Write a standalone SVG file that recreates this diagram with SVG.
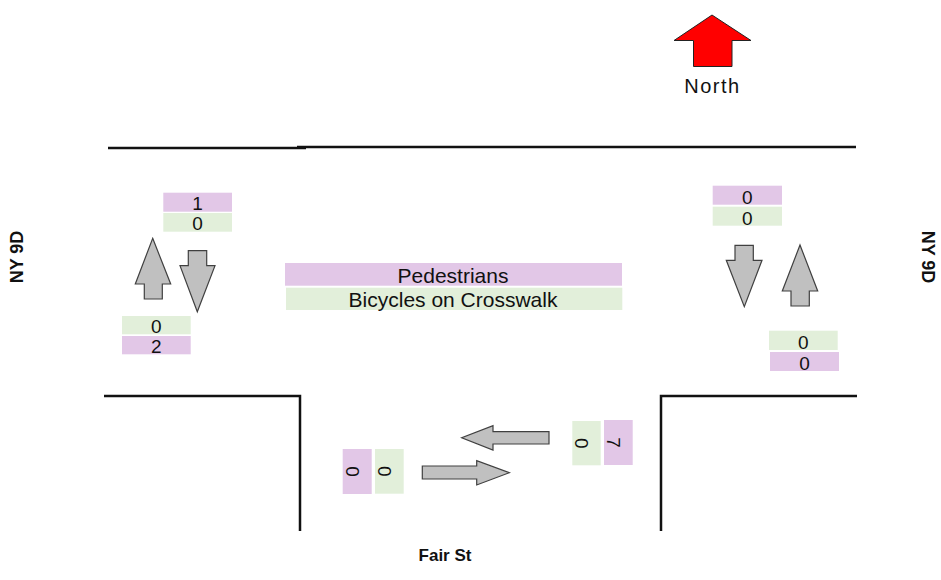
<svg xmlns="http://www.w3.org/2000/svg" width="941" height="580" viewBox="0 0 941 580">
<style>
.road{stroke:#111;stroke-width:2.5;fill:none}
.arr{fill:#c0c0c0;stroke:#404040;stroke-width:1.2}
.ped{fill:#e2c7e7}
.bik{fill:#e2efda}
.t{font-family:"Liberation Sans",Arial,sans-serif;font-size:19px;fill:#111;text-anchor:middle}
.tl{font-family:"Liberation Sans",Arial,sans-serif;font-size:21px;fill:#111;text-anchor:middle}
.lab{font-family:"Liberation Sans",Arial,sans-serif;font-size:18px;font-weight:bold;fill:#111;text-anchor:middle}
</style>
<rect width="941" height="580" fill="#fff"/>
<g id="roads">
<line class="road" x1="108" y1="148" x2="306" y2="148"/>
<line class="road" x1="297" y1="147" x2="856" y2="147"/>
<polyline class="road" points="104,396 300,396 300,531"/>
<polyline class="road" points="661,531 661,396 857,396"/>
</g>
<g id="north">
<polygon points="712,15 751,40.5 732,40.5 732,66.5 693.5,66.5 693.5,40.5 674,40.5" fill="#ff0000" stroke="#222" stroke-width="1"/>
<text x="712.5" y="92.5" class="tl" style="font-size:20px;letter-spacing:1.5px">North</text>
</g>
<g id="label-west">
<text transform="translate(23,257) rotate(-90)" class="lab">NY 9D</text>
</g>
<g id="label-east">
<text transform="translate(922,257) rotate(90)" class="lab">NY 9D</text>
</g>
<g id="label-south">
<text x="445" y="561" class="lab" style="font-size:17px">Fair St</text>
</g>
<g id="crosswalk">
<rect class="ped" x="285" y="263" width="337" height="22.7"/>
<text x="453" y="283" class="tl">Pedestrians</text>
<rect class="bik" x="286" y="287.7" width="336.3" height="22.3"/>
<text x="453" y="306.5" class="tl">Bicycles on Crosswalk</text>
</g>
<g id="west-approach">
<rect class="ped" x="163.3" y="192.7" width="68.7" height="19"/>
<text x="197.5" y="210.3" class="t">1</text>
<rect class="bik" x="163.3" y="213" width="68.7" height="18.7"/>
<text x="197.5" y="230.3" class="t">0</text>
<polygon class="arr" points="152.7,238.3 170.7,284 162.3,284 162.3,299 144.3,299 144.3,284 135.3,284"/>
<polygon class="arr" points="188.3,250.7 206.7,250.7 206.7,265.7 215,265.7 197.3,311.7 180,265.7 188.3,265.7"/>
<rect class="bik" x="122" y="316" width="68.7" height="18.3"/>
<text x="156.3" y="333" class="t">0</text>
<rect class="ped" x="122" y="336" width="68.7" height="18.3"/>
<text x="156.3" y="353.3" class="t">2</text>
</g>
<g id="east-approach">
<rect class="ped" x="712.7" y="185.7" width="69.3" height="19"/>
<text x="747.3" y="203.8" class="t">0</text>
<rect class="bik" x="712.7" y="206.7" width="69.3" height="19"/>
<text x="747.3" y="224.5" class="t">0</text>
<polygon class="arr" points="735,245.3 753.3,245.3 753.3,260.3 762,260.3 744.3,306.7 726.3,260.3 735,260.3"/>
<polygon class="arr" points="800,245 817.7,291 809.3,291 809.3,306 791,306 791,291 782.3,291"/>
<rect class="bik" x="769" y="330.7" width="68.7" height="19.3"/>
<text x="803.3" y="348.7" class="t">0</text>
<rect class="ped" x="770" y="352" width="69" height="19"/>
<text x="804.5" y="370" class="t">0</text>
</g>
<g id="south-approach">
<rect class="ped" x="342.7" y="449" width="29" height="45"/>
<text transform="translate(357.2,471.5) rotate(90)" x="0" y="11.5" class="t">0</text>
<rect class="bik" x="375" y="449" width="28.7" height="44.7"/>
<text transform="translate(389.3,471.3) rotate(90)" x="0" y="11.5" class="t">0</text>
<polygon class="arr" points="422.3,466 476.7,466 476.7,460.7 509.3,472.7 476.7,485 476.7,479 422.3,479"/>
<polygon class="arr" points="549,431.7 493,431.7 493,425.7 461.7,437.7 493,450 493,444 549,444"/>
<rect class="bik" x="572.3" y="421" width="28.4" height="44.3"/>
<text transform="translate(586.5,443.2) rotate(90)" x="0" y="11.5" class="t">0</text>
<rect class="ped" x="604" y="420" width="28.7" height="45"/>
<text transform="translate(618.3,442.5) rotate(90)" x="0" y="11.5" class="t">7</text>
</g>
</svg>
